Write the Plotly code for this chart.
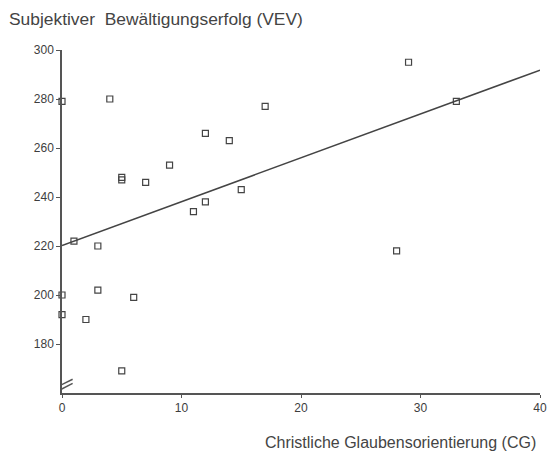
import numpy as np
import plotly.graph_objects as go

# Data
cg = [0, 4, 5, 5, 7, 9, 12, 14, 17, 15, 12, 11, 1, 3, 0, 3, 6, 0, 2, 5, 29, 33, 28]
vev = [279, 280, 248, 247, 246, 253, 266, 263, 277, 243, 238, 234, 222, 220,
       200, 202, 199, 192, 190, 169, 295, 279, 218]
x_ticks = [0, 10, 20, 30, 40]
y_ticks = [180, 200, 220, 240, 260, 280, 300]
x_range = [0, 40]
y_range = [160, 300]

title_text = "Subjektiver&nbsp;&nbsp;Bewältigungserfolg (VEV)"
x_title = "Christliche Glaubensorientierung (CG)"

slope, intercept = np.polyfit(cg, vev, 1)
fit_x = np.array(x_range, dtype=float)
fit_y = intercept + slope * fit_x

axis_col = "#555555"
font_family = "Liberation Sans, Arial, sans-serif"

fig = go.Figure()
fig.add_trace(go.Scatter(
    x=fit_x, y=fit_y, mode="lines",
    line=dict(color="#444444", width=1.5),
    cliponaxis=False, hoverinfo="skip", showlegend=False,
))
fig.add_trace(go.Scatter(
    x=cg, y=vev, mode="markers",
    marker=dict(symbol="square-open", size=6, color="#444444",
                line=dict(width=1.2, color="#444444")),
    cliponaxis=False, showlegend=False,
))

# axis break marks on the y axis
for y0, y1 in [(162.6, 165.6), (160.8, 163.9)]:
    fig.add_shape(type="line", xref="x", yref="y",
                  x0=-0.36, x1=0.89, y0=y0, y1=y1,
                  line=dict(color=axis_col, width=1.5))

fig.update_layout(
    width=547, height=454, autosize=False,
    margin=dict(l=62, r=7, t=50, b=61, autoexpand=False),
    paper_bgcolor="white", plot_bgcolor="white",
    font=dict(family=font_family, color="#444444"),
    xaxis=dict(
        range=x_range, tickvals=x_ticks, ticks="outside", ticklen=3,
        tickcolor=axis_col, showline=True, linecolor=axis_col, linewidth=1.5,
        showgrid=False, zeroline=False, automargin=False,
        tickfont=dict(size=12, color="#3d3d3d"),
    ),
    yaxis=dict(
        range=y_range, tickvals=y_ticks, ticks="outside", ticklen=4,
        tickcolor=axis_col, showline=True, linecolor=axis_col, linewidth=1.5,
        showgrid=False, zeroline=False, automargin=False,
        tickfont=dict(size=12, color="#3d3d3d"),
    ),
    annotations=[
        dict(text=title_text, xref="paper", yref="paper",
             x=-55 / 478, y=1 + 31 / 343, xanchor="left", yanchor="middle",
             showarrow=False, font=dict(size=17.4, color="#444444")),
        dict(text=x_title, xref="paper", yref="paper",
             x=1 - 2 / 478, y=-49 / 343, xanchor="right", yanchor="middle",
             showarrow=False, font=dict(size=16, color="#444444")),
    ],
)

fig.write_html("out.html",
               config={"displayModeBar": False, "responsive": False},
               post_script="document.body.style.margin='0';"
                           "document.body.style.overflow='hidden';")
